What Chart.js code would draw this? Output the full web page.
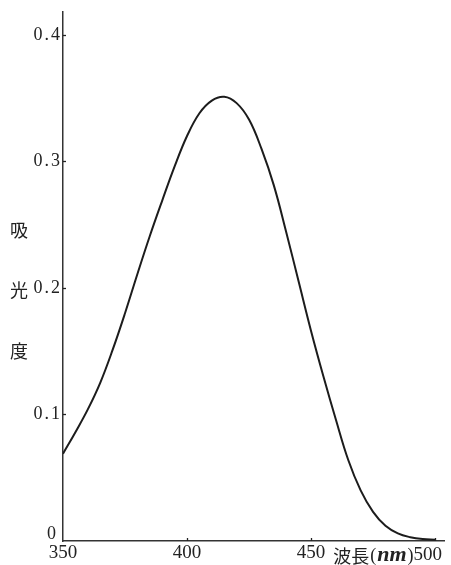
<!DOCTYPE html>
<html>
<head>
<meta charset="utf-8">
<script src="https://cdn.jsdelivr.net/npm/chart.js@4/dist/chart.umd.min.js"></script>
<style>
  html, body { margin: 0; padding: 0; background: #fff; }
  canvas { display: block; }
</style>
</head>
<body>
<canvas id="c" width="451" height="565"></canvas>
<script>
// Wavelength (nm)
const wavelengths = [350,355,360,365,370,375,380,385,390,395,400,405,410,415,420,425,430,435,440,445,450,455,460,465,470,475,480,485,490,495,500];
// Absorbance
const absorbance = [0.069,0.086,0.104,0.125,0.151,0.180,0.211,0.241,0.269,0.296,0.320,0.338,0.348,0.351,0.346,0.333,0.310,0.281,0.244,0.205,0.166,0.130,0.096,0.064,0.040,0.023,0.012,0.006,0.003,0.0015,0.001];
const xTicks = [350, 400, 450, 500];
const yTicks = [0, 0.1, 0.2, 0.3, 0.4];
const yTickLabels = ['0', '0.1', '0.2', '0.3', '0.4'];
const xTitle = '波長';
const xUnit = 'nm';
const yTitleChars = ['吸', '光', '度'];

const ink = '#222';

const labelPlugin = {
  id: 'labels',
  afterDraw(chart) {
    const ctx = chart.ctx;
    const xs = chart.scales.x, ys = chart.scales.y;
    const ax = xs.left, ay = ys.bottom;
    ctx.save();
    ctx.strokeStyle = ink;
    ctx.lineWidth = 1.3;
    // inward tick marks
    yTicks.forEach(v => {
      if (v === 0) return;
      const py = Math.round(ys.getPixelForValue(v)) + 0.5;
      ctx.beginPath(); ctx.moveTo(ax, py); ctx.lineTo(ax + 3, py); ctx.stroke();
    });
    xTicks.forEach(v => {
      if (v === 350) return;
      const px = Math.round(xs.getPixelForValue(v)) + 0.5;
      ctx.beginPath(); ctx.moveTo(px, ay); ctx.lineTo(px, ay - 3); ctx.stroke();
    });
    ctx.fillStyle = ink;
    // y tick labels
    ctx.font = '18px "Liberation Serif", serif';
    ctx.letterSpacing = '2px';
    ctx.textAlign = 'right';
    ctx.textBaseline = 'middle';
    yTicks.forEach((v, i) => {
      let py = ys.getPixelForValue(v);
      if (v === 0) py -= 7;
      ctx.fillText(yTickLabels[i], ax - (v === 0 ? 5 : 1), py);
    });
    ctx.letterSpacing = '0px';
    // x tick labels
    ctx.font = '19px "Liberation Serif", serif';
    ctx.textBaseline = 'middle';
    xTicks.forEach(v => {
      const px = xs.getPixelForValue(v);
      if (v === 500) {
        ctx.textAlign = 'right';
        ctx.fillText(String(v), px + 7, ay + 14);
      } else {
        ctx.textAlign = 'center';
        ctx.fillText(String(v), px, ay + 12);
      }
    });
    // x title: 波長(nm) just left of 500
    const p500 = xs.getPixelForValue(500) + 7 - ctx.measureText('500').width;
    let tx = p500;
    const ty = ay + 15;
    ctx.textAlign = 'right';
    ctx.font = '18px "Liberation Serif", serif';
    ctx.fillText(')', tx, ty); tx -= ctx.measureText(')').width;
    ctx.font = 'bold italic 22px "Liberation Serif", serif';
    ctx.fillText(xUnit, tx - 1, ty - 1); tx -= ctx.measureText(xUnit).width + 2;
    ctx.font = '18px "Liberation Serif", serif';
    ctx.fillText('(', tx, ty); tx -= ctx.measureText('(').width + 1;
    ctx.font = '18px "Noto Sans CJK JP", sans-serif';
    ctx.fillText(xTitle, tx, ty);
    // y title, vertical
    ctx.textAlign = 'center';
    ctx.font = '18px "Noto Sans CJK JP", sans-serif';
    const yPos = [230, 290, 351];
    yTitleChars.forEach((ch, i) => ctx.fillText(ch, 19, yPos[i]));
    ctx.restore();
  }
};

new Chart(document.getElementById('c'), {
  type: 'line',
  data: {
    datasets: [{
      data: wavelengths.map((w, i) => ({ x: w, y: absorbance[i] })),
      borderColor: '#1c1c1c',
      borderWidth: 2,
      pointRadius: 0,
      fill: false,
      tension: 0.4
    }]
  },
  options: {
    responsive: false,
    animation: false,
    devicePixelRatio: 1,
    layout: { padding: { left: 63, top: 12, right: 7, bottom: 24 } },
    plugins: { legend: { display: false }, tooltip: { enabled: false } },
    scales: {
      x: {
        type: 'linear', min: 350, max: 503.6,
        ticks: { display: false },
        grid: { display: false, drawTicks: false },
        border: { display: true, color: '#333', width: 1.5 }
      },
      y: {
        min: 0, max: 0.418,
        ticks: { display: false },
        grid: { display: false, drawTicks: false },
        border: { display: true, color: '#333', width: 1.5 }
      }
    }
  },
  plugins: [labelPlugin]
});
</script>
</body>
</html>
